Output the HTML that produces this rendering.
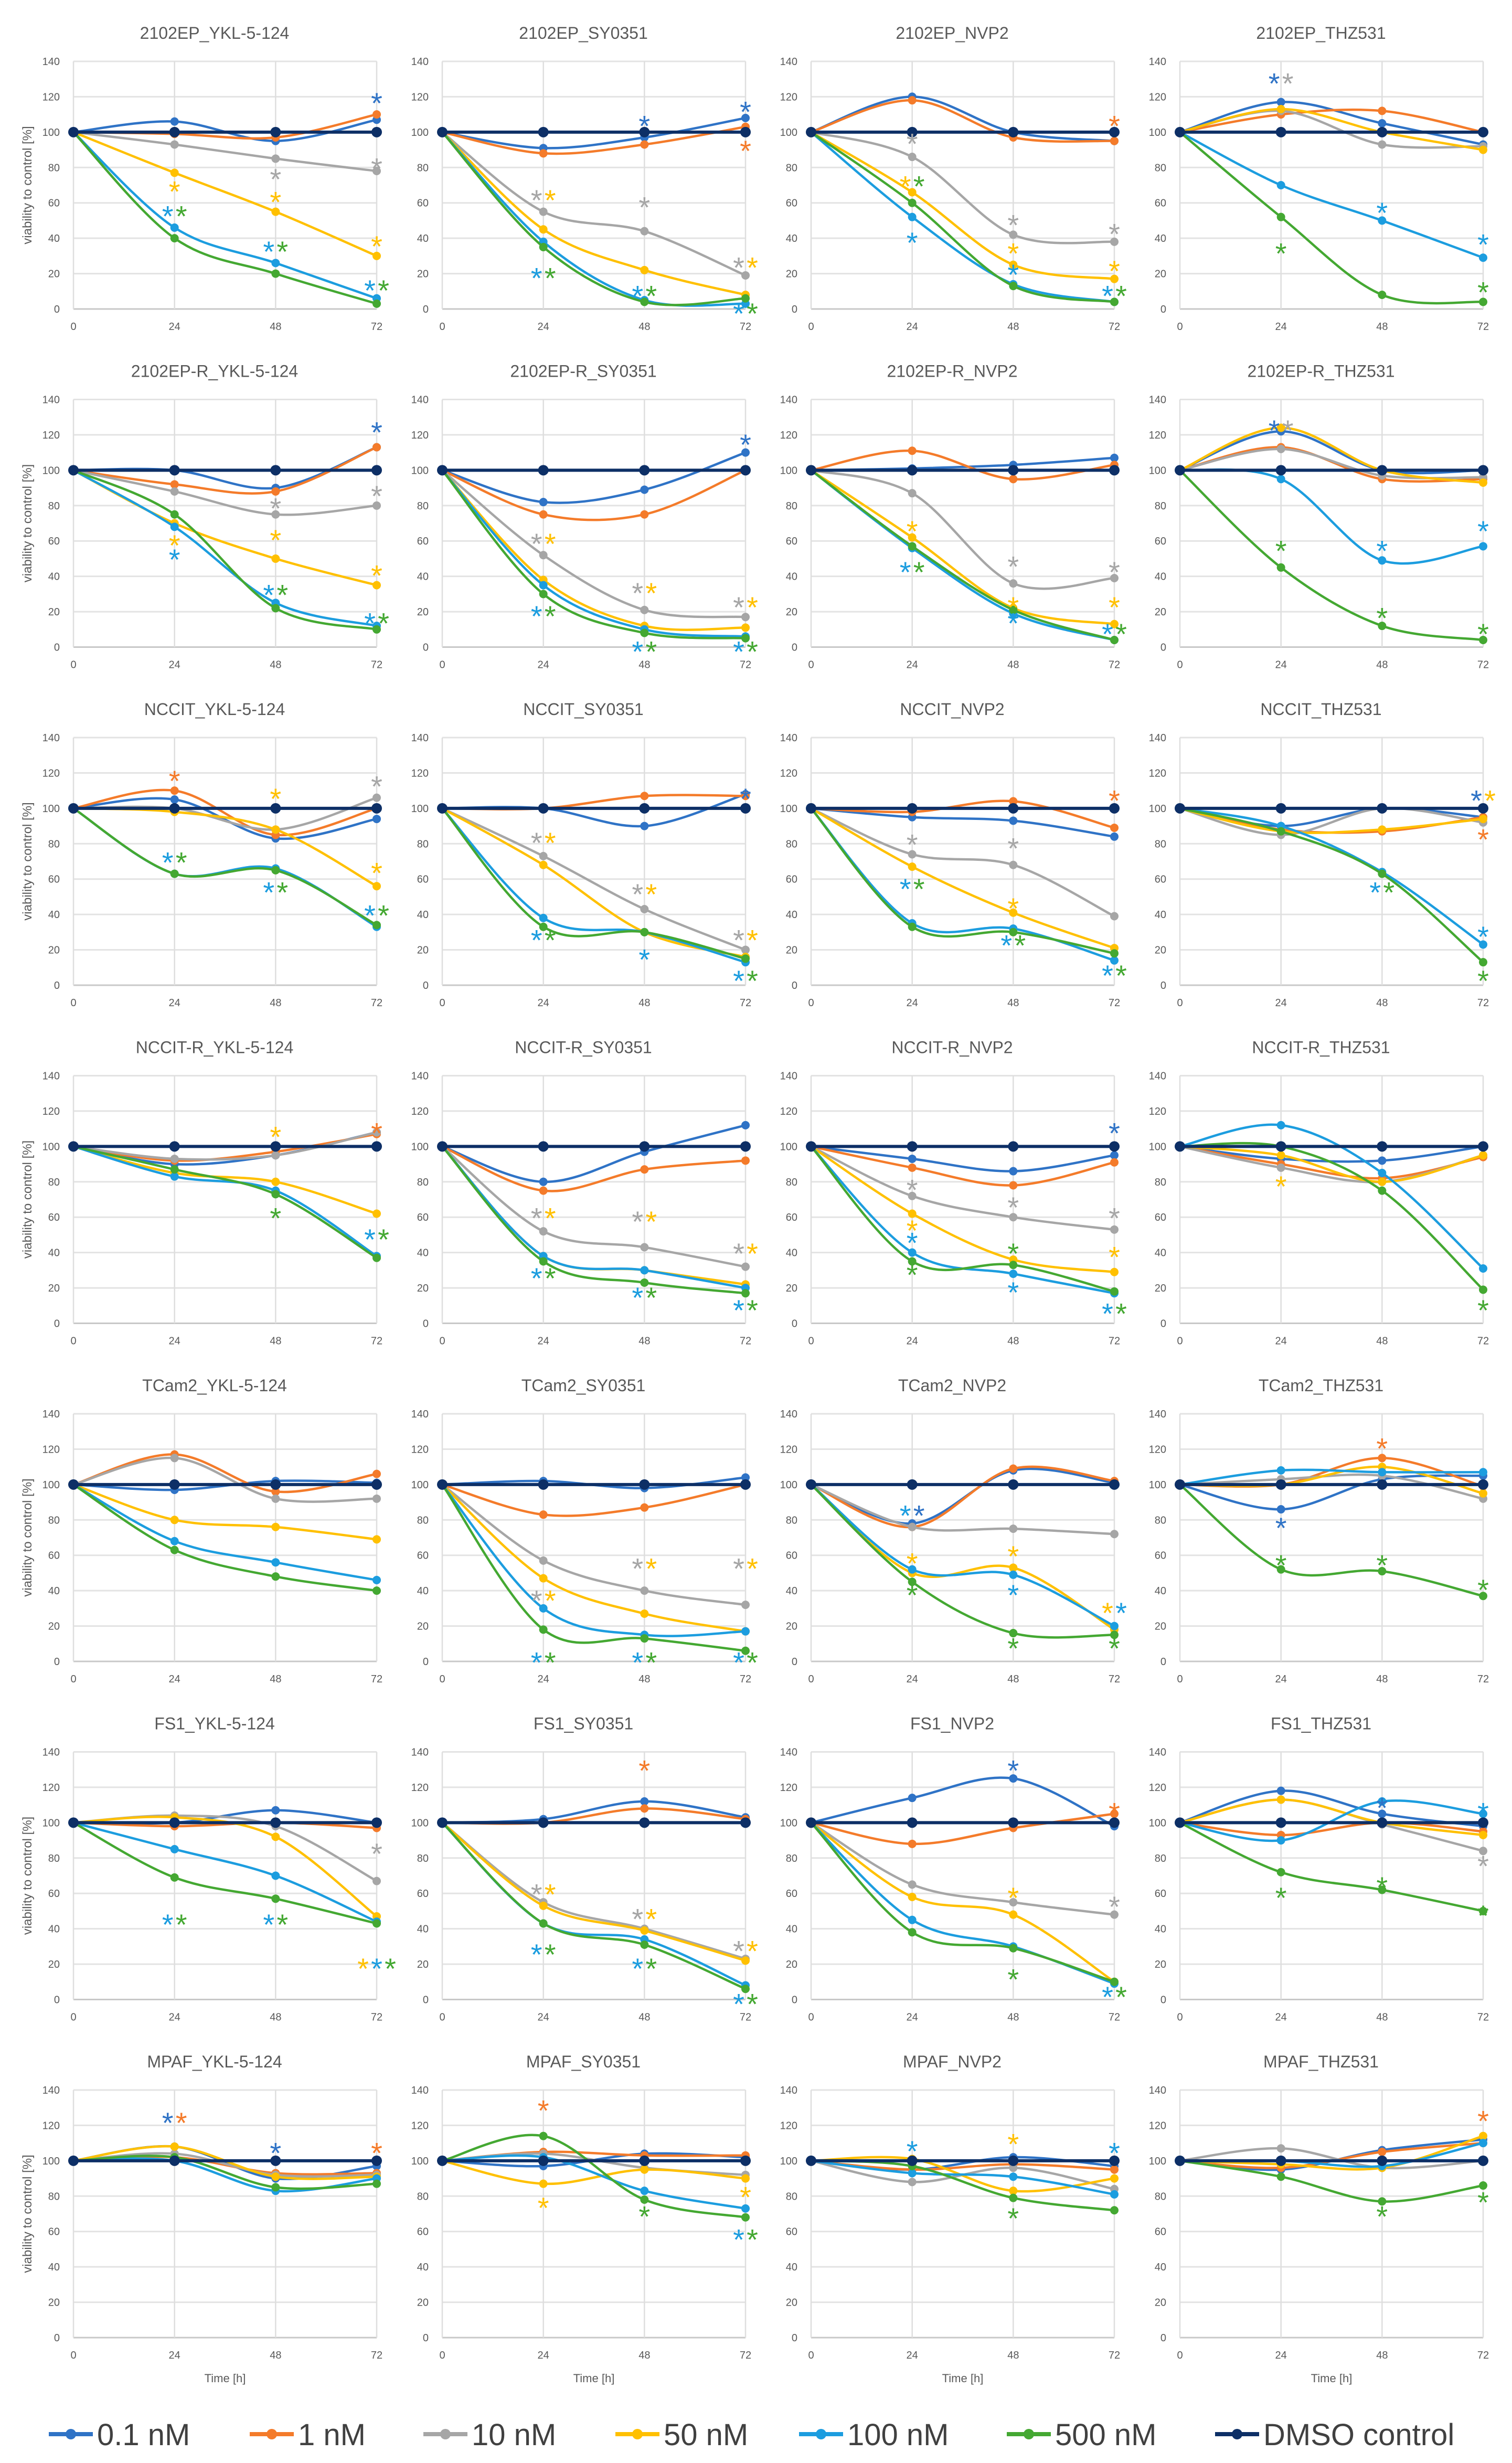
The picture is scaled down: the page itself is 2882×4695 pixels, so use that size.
<!DOCTYPE html>
<html><head><meta charset="utf-8">
<style>
html,body{margin:0;padding:0;background:#fff;}
svg{display:block;font-family:"Liberation Sans",sans-serif;}
</style></head>
<body>
<svg id="fig" xmlns="http://www.w3.org/2000/svg" width="2882" height="4695" viewBox="0 0 2882 4695"></svg>
<script>
const titles = ["2102EP_YKL-5-124","2102EP_SY0351","2102EP_NVP2","2102EP_THZ531",
"2102EP-R_YKL-5-124","2102EP-R_SY0351","2102EP-R_NVP2","2102EP-R_THZ531",
"NCCIT_YKL-5-124","NCCIT_SY0351","NCCIT_NVP2","NCCIT_THZ531",
"NCCIT-R_YKL-5-124","NCCIT-R_SY0351","NCCIT-R_NVP2","NCCIT-R_THZ531",
"TCam2_YKL-5-124","TCam2_SY0351","TCam2_NVP2","TCam2_THZ531",
"FS1_YKL-5-124","FS1_SY0351","FS1_NVP2","FS1_THZ531",
"MPAF_YKL-5-124","MPAF_SY0351","MPAF_NVP2","MPAF_THZ531"];
const times = [0,24,48,72];
const yTicks = [0,20,40,60,80,100,120,140];
const seriesNames = ["0.1 nM","1 nM","10 nM","50 nM","100 nM","500 nM","DMSO control"];
const seriesColors = ["#2F73C6","#F47B2A","#A6A6A6","#FFC000","#1C9DDF","#44A832","#0D2F66"];
// values at 24,48,72 h per panel; order 0.1,1,10,50,100,500 nM (0h = 100, DMSO = 100)
const s01 = [[106,95,107],[91,97,108],[120,100,95],[117,105,93],[100,90,113],[82,89,110],[101,103,107],[122,100,100],[105,83,94],[100,90,108],[95,93,84],[90,100,95],[90,95,108],[80,97,112],[93,86,95],[93,92,100],[97,102,101],[102,98,104],[78,108,101],[86,103,105],[100,107,100],[102,112,103],[114,125,98],[118,105,98],[108,90,97],[97,104,102],[95,102,97],[95,106,112]];
const s1 = [[99,97,110],[88,93,103],[118,97,95],[110,112,100],[92,88,113],[75,75,100],[111,95,103],[113,95,95],[110,85,100],[100,107,107],[98,104,89],[88,87,95],[92,97,107],[75,87,92],[88,78,91],[90,82,94],[117,96,106],[83,87,100],[76,109,102],[100,115,99],[98,100,97],[100,108,102],[88,97,105],[93,100,95],[102,93,93],[105,103,103],[95,98,95],[96,105,110]];
const s10 = [[93,85,78],[55,44,19],[86,42,38],[112,93,92],[88,75,80],[52,21,17],[87,36,39],[112,97,96],[100,88,106],[73,43,20],[74,68,39],[85,100,92],[93,95,108],[52,43,32],[72,60,53],[88,80,95],[115,92,92],[57,40,32],[76,75,72],[103,105,92],[104,98,67],[55,40,23],[65,55,48],[113,99,84],[104,92,92],[104,96,92],[88,96,84],[107,96,100]];
const s50 = [[77,55,30],[45,22,8],[66,25,17],[113,100,90],[70,50,35],[38,12,11],[62,22,13],[124,100,93],[98,88,56],[68,30,16],[67,41,21],[87,88,94],[85,80,62],[38,30,22],[62,36,29],[95,80,95],[80,76,69],[47,27,17],[50,53,18],[100,110,95],[103,92,47],[53,39,22],[58,48,10],[113,100,93],[108,91,91],[87,95,90],[101,83,90],[98,96,114]];
const s100 = [[46,26,6],[38,5,3],[52,14,4],[70,50,29],[68,25,12],[35,10,6],[56,19,4],[95,49,57],[63,66,33],[38,30,13],[35,32,14],[90,64,23],[83,75,38],[38,30,20],[40,28,17],[112,85,31],[68,56,46],[30,15,17],[52,49,20],[108,107,107],[85,70,44],[43,34,8],[45,30,9],[90,112,105],[100,83,90],[102,83,73],[93,91,81],[100,97,110]];
const s500 = [[40,20,3],[35,4,6],[60,13,4],[52,8,4],[75,22,10],[30,8,5],[57,21,4],[45,12,4],[63,65,34],[33,30,15],[33,30,18],[87,63,13],[87,73,37],[35,23,17],[35,33,18],[100,75,19],[63,48,40],[18,13,6],[45,16,15],[52,51,37],[69,57,43],[43,31,6],[38,29,10],[72,62,50],[102,85,87],[114,78,68],[97,79,72],[91,77,86]];
const sDMSO = [100,100,100];
// significance stars: panel, series index, time index, value position
const stars = [
[0,0,3,119],[0,2,3,82],[0,2,2,76],[0,3,1,69],[0,3,2,63],[0,3,3,38],[0,4,1,55],[0,5,1,55],[0,4,2,35],[0,5,2,35],[0,4,3,13],[0,5,3,13],
[1,0,2,106],[1,0,3,114],[1,1,3,92],[1,2,1,64],[1,3,1,64],[1,2,2,60],[1,2,3,26],[1,3,3,26],[1,4,1,20],[1,5,1,20],[1,4,2,10],[1,5,2,10],[1,4,3,0],[1,5,3,0],
[2,1,3,106],[2,2,1,96],[2,3,1,72],[2,5,1,72],[2,4,1,40],[2,2,2,50],[2,3,2,34],[2,4,2,22],[2,2,3,45],[2,3,3,24],[2,4,3,10],[2,5,3,10],
[3,0,1,130],[3,2,1,130],[3,4,2,57],[3,5,1,34],[3,4,3,39],[3,5,3,12],
[4,0,3,124],[4,2,3,88],[4,2,2,81],[4,3,2,63],[4,3,1,60],[4,4,1,52],[4,3,3,43],[4,4,2,32],[4,5,2,32],[4,4,3,16],[4,5,3,16],
[5,0,3,117],[5,2,1,61],[5,3,1,61],[5,2,2,33],[5,3,2,33],[5,2,3,25],[5,3,3,25],[5,4,1,20],[5,5,1,20],[5,4,2,0],[5,5,2,0],[5,4,3,0],[5,5,3,0],
[6,3,1,68],[6,4,1,45],[6,5,1,45],[6,2,2,48],[6,3,2,25],[6,4,2,16],[6,2,3,45],[6,3,3,25],[6,4,3,10],[6,5,3,10],
[7,0,1,125],[7,2,1,125],[7,5,1,57],[7,4,2,57],[7,5,2,19],[7,4,3,68],[7,5,3,10],
[8,1,1,118],[8,4,1,72],[8,5,1,72],[8,3,2,108],[8,4,2,55],[8,5,2,55],[8,2,3,115],[8,3,3,66],[8,4,3,42],[8,5,3,42],
[9,2,1,83],[9,3,1,83],[9,4,1,28],[9,5,1,28],[9,2,2,54],[9,3,2,54],[9,4,2,17],[9,0,3,108],[9,2,3,28],[9,3,3,28],[9,4,3,5],[9,5,3,5],
[10,2,1,82],[10,4,1,57],[10,5,1,57],[10,2,2,80],[10,3,2,46],[10,4,2,25],[10,5,2,25],[10,1,3,107],[10,4,3,8],[10,5,3,8],
[11,4,2,55],[11,5,2,55],[11,0,3,107],[11,3,3,107],[11,1,3,85],[11,4,3,30],[11,5,3,5],
[12,3,2,108],[12,5,2,62],[12,1,3,110],[12,4,3,50],[12,5,3,50],
[13,2,1,62],[13,3,1,62],[13,4,1,28],[13,5,1,28],[13,2,2,60],[13,3,2,60],[13,4,2,17],[13,5,2,17],[13,2,3,42],[13,3,3,42],[13,4,3,10],[13,5,3,10],
[14,2,1,78],[14,3,1,55],[14,4,1,48],[14,5,1,30],[14,2,2,68],[14,5,2,42],[14,4,2,20],[14,0,3,110],[14,2,3,62],[14,3,3,40],[14,4,3,8],[14,5,3,8],
[15,3,1,80],[15,5,3,10],
[17,2,1,37],[17,3,1,37],[17,4,1,2],[17,5,1,2],[17,2,2,55],[17,3,2,55],[17,4,2,2],[17,5,2,2],[17,2,3,55],[17,3,3,55],[17,4,3,2],[17,5,3,2],
[18,4,1,85],[18,0,1,85],[18,3,1,58],[18,5,1,40],[18,3,2,62],[18,4,2,40],[18,5,2,10],[18,3,3,30],[18,4,3,30],[18,5,3,10],
[19,1,2,123],[19,0,1,78],[19,5,1,57],[19,5,2,57],[19,5,3,43],
[20,2,3,85],[20,3,3,20],[20,4,1,45],[20,5,1,45],[20,4,2,45],[20,5,2,45],[20,4,3,20],[20,5,3,20],
[21,1,2,132],[21,2,1,62],[21,3,1,62],[21,2,2,48],[21,3,2,48],[21,4,1,28],[21,5,1,28],[21,4,2,20],[21,5,2,20],[21,2,3,30],[21,3,3,30],[21,4,3,0],[21,5,3,0],
[22,0,2,132],[22,1,3,108],[22,2,3,55],[22,3,2,60],[22,5,2,14],[22,4,3,4],[22,5,3,4],
[23,0,2,111],[23,4,3,108],[23,2,3,78],[23,5,2,66],[23,5,1,60],[23,5,3,50],
[24,0,1,124],[24,1,1,124],[24,0,2,107],[24,1,3,107],
[25,1,1,131],[25,3,1,76],[25,5,2,71],[25,4,3,58],[25,5,3,58],[25,3,3,82],
[26,4,1,108],[26,3,2,112],[26,4,3,107],[26,5,2,70],
[27,1,3,125],[27,5,2,71],[27,5,3,79]];

const svg = document.getElementById('fig');
const NS = "http://www.w3.org/2000/svg";
function el(tag, attrs, parent){const e=document.createElementNS(NS,tag);for(const k in attrs)e.setAttribute(k,attrs[k]);(parent||svg).appendChild(e);return e;}
const X0=140, COLSTEP=703, PW=578, Y0=117, ROWSTEP=644.5, PH=472;
function xScale(c,t){return X0+c*COLSTEP+t/72*PW;}
function yScale(r,v){return Y0+r*ROWSTEP+PH-v/140*PH;}
function smoothPath(pts){
  let d="M"+pts[0][0].toFixed(1)+","+pts[0][1].toFixed(1);
  for(let i=0;i<pts.length-1;i++){
    const p0=pts[Math.max(0,i-1)],p1=pts[i],p2=pts[i+1],p3=pts[Math.min(pts.length-1,i+2)];
    const c1=[p1[0]+(p2[0]-p0[0])/6,p1[1]+(p2[1]-p0[1])/6];
    const c2=[p2[0]-(p3[0]-p1[0])/6,p2[1]-(p3[1]-p1[1])/6];
    d+=" C"+c1[0].toFixed(1)+","+c1[1].toFixed(1)+" "+c2[0].toFixed(1)+","+c2[1].toFixed(1)+" "+p2[0].toFixed(1)+","+p2[1].toFixed(1);
  }
  return d;
}
const allSeries=[s01,s1,s10,s50,s100,s500];
for(let p=0;p<28;p++){
  const r=Math.floor(p/4), c=p%4;
  const g=el('g',{});
  
  
  const cx=X0+c*COLSTEP+PW/2;
  const t=el('text',{x:cx-20,y:Y0+r*ROWSTEP-43,'font-size':32,fill:'#595959','text-anchor':'middle'},g);
  t.textContent=titles[p];
  
  
  yTicks.forEach(v=>{
    const yy=yScale(r,v);
    const gl=el('line',{x1:X0+c*COLSTEP,x2:X0+c*COLSTEP+PW,y1:yy,y2:yy,stroke:v===0?'#c8c8c8':'#e3e3e3','stroke-width':3},g);
    
    
    const tl=el('text',{x:X0+c*COLSTEP-26,y:yy+7,'font-size':20,fill:'#595959','text-anchor':'end'},g);
    tl.textContent=v;
    
    
  });
  times.forEach(tt=>{
    const xx=xScale(c,tt);
    const vl=el('line',{x1:xx,x2:xx,y1:yScale(r,140),y2:yScale(r,0),stroke:'#dedede','stroke-width':2.5},g);
    
    
    const xl=el('text',{x:xx,y:yScale(r,0)+40,'font-size':20,fill:'#595959','text-anchor':'middle'},g);
    xl.textContent=tt;
    
    
  });
  if(c===0){
    const ya=el('text',{x:0,y:0,'font-size':24,fill:'#595959','text-anchor':'middle',transform:'translate(60,'+(yScale(r,70))+') rotate(-90)'},g);
    ya.textContent='viability to control [%]';
    
    
  }
  if(r===6){
    const xa=el('text',{x:cx,y:yScale(r,0)+85,'font-size':22,fill:'#595959','text-anchor':'middle'},g);
    xa.textContent='Time [h]';
    
    
  }
  [0,1,2,3,4,5,6].forEach(si=>{
    const vals=[100].concat(si<6?allSeries[si][p]:sDMSO);
    const pts=vals.map((v,i)=>[xScale(c,times[i]),yScale(r,v)]);
    const path=el('path',{d:smoothPath(pts),fill:'none',stroke:seriesColors[si],'stroke-width':si===6?6:4.5},g);
    
    
    pts.forEach(pt=>{
      const m=el('circle',{cx:pt[0],cy:pt[1],r:si===6?10:8,fill:seriesColors[si]},g);
      
      
    });
  });
}
const STAR_FS=56;
stars.forEach(s=>{
  const p=s[0],r=Math.floor(p/4),c=p%4;
  const grp=stars.filter(o=>o[0]===p&&o[2]===s[2]&&o[3]===s[3]);
  const idx=grp.indexOf(s);
  const off=(idx-(grp.length-1)/2)*26;
  const st=el('text',{x:xScale(c,times[s[2]])+off,y:yScale(r,s[3])+STAR_FS*0.5,'font-size':STAR_FS,fill:seriesColors[s[1]],'text-anchor':'middle'});
  st.textContent='*';
  
  
});
const legX=[93,476,807,1173,1523,1919,2316];
const lg=el('g',{});


seriesNames.forEach((n,i)=>{
  const ln=el('line',{x1:legX[i],x2:legX[i]+84,y1:4640,y2:4640,stroke:seriesColors[i],'stroke-width':8},lg);
  
  
  const dot=el('circle',{cx:legX[i]+42,cy:4640,r:10,fill:seriesColors[i]},lg);
  
  
  const tx=el('text',{x:legX[i]+92,y:4661,'font-size':58,fill:'#404040'},lg);
  tx.textContent=n;
  
  
});
</script>
</body></html>
